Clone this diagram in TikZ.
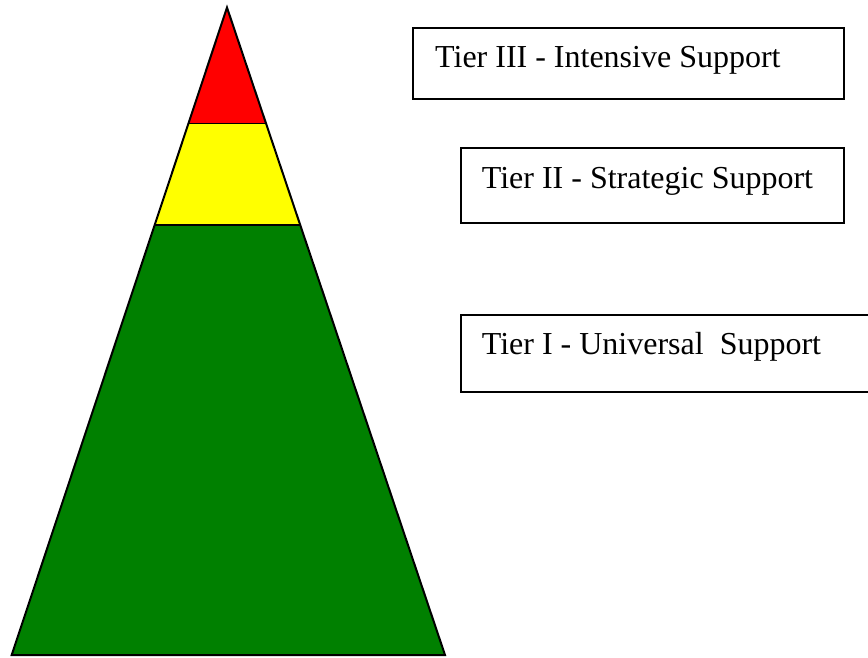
\documentclass[tikz,border=0pt]{standalone}
\usepackage{fontspec}
\setmainfont{Liberation Serif}
\definecolor{tierred}{RGB}{255,0,0}
\definecolor{tieryellow}{RGB}{255,255,0}
\definecolor{tiergreen}{RGB}{0,128,0}
\begin{document}
\begin{tikzpicture}[x=1pt,y=-1pt,
  tierbox/.style={draw=black,line width=2pt},
  tiertext/.style={anchor=base west,inner sep=0pt,font=\fontsize{32}{38}\selectfont},
  edge/.style={draw=black,line width=2pt,line join=miter}]
\useasboundingbox (0,0) rectangle (868,658);
\clip (0,0) rectangle (868,658);
% pyramid
\coordinate (apex) at (227,7.5);
\coordinate (bl) at (11.7,655);
\coordinate (br) at (445,655);
\coordinate (ryl) at (188.6,123.5);
\coordinate (ryr) at (265.9,123.5);
\coordinate (ygl) at (154.6,225);
\coordinate (ygr) at (300.1,225);
\fill[tierred] (apex) -- (ryr) -- (ryl) -- cycle;
\fill[tieryellow] (ryl) -- (ryr) -- (ygr) -- (ygl) -- cycle;
\fill[tiergreen] (ygl) -- (ygr) -- (br) -- (bl) -- cycle;
\draw[line width=1.5pt] (ryl) -- (ryr);
\draw[line width=1.5pt] (ygl) -- (ygr);
\draw[edge] (apex) -- (br) -- (bl) -- cycle;
% boxes
\draw[tierbox] (412.7,28.5) rectangle (844.3,99.3);
\node[tiertext] (t3) at (435,68) {Tier III - Intensive Support};
\draw[tierbox] (460.7,148) rectangle (844.3,223.3);
\node[tiertext] (t2) at (481.7,188.3) {Tier II - Strategic Support};
\draw[tierbox] (460.7,315) rectangle (900,391.7);
\node[tiertext] (t1) at (481.7,354) {Tier I - Universal\ \ Support};
\end{tikzpicture}
\end{document}
